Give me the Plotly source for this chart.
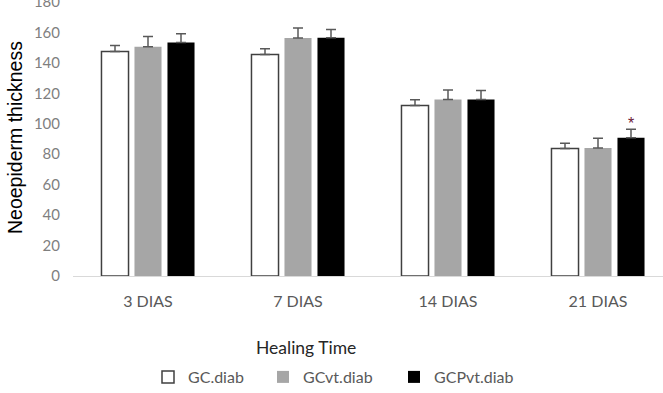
import plotly.graph_objects as go

categories = ["3 DIAS", "7 DIAS", "14 DIAS", "21 DIAS"]
series_names = ["GC.diab", "GCvt.diab", "GCPvt.diab"]
gc_diab = [147.5, 145.5, 112.0, 83.7]
gc_diab_err = [4.0, 3.8, 3.8, 3.5]
gcvt_diab = [150.6, 156.3, 115.9, 84.1]
gcvt_diab_err = [6.8, 6.7, 6.3, 6.4]
gcpvt_diab = [153.4, 156.5, 115.9, 90.9]
gcpvt_diab_err = [5.7, 5.5, 5.9, 5.5]
significance = ["", "", "", "*"]
y_ticks = [0, 20, 40, 60, 80, 100, 120, 140, 160, 180]

W, H = 663, 393
ml, mr, mt, mb = 73, 0, 2, 117
pw, ph = W - ml - mr, H - mt - mb

bargap = 0.34
slot = (1 - bargap) / 3

values = [gc_diab, gcvt_diab, gcpvt_diab]
errors = [gc_diab_err, gcvt_diab_err, gcpvt_diab_err]
fills = ["#ffffff", "#a6a6a6", "#000000"]
lines = ["#404040", "#a6a6a6", "#000000"]
lwidths = [1.5, 0, 0]
legend_ids = ["legend", "legend2", "legend3"]
legend_text_px = [188, 303, 434]

xs = list(range(len(categories)))
fig = go.Figure()
for i in range(3):
    fig.add_trace(go.Bar(
        x=xs, y=values[i], name=series_names[i],
        marker=dict(color=fills[i], line=dict(color=lines[i], width=lwidths[i])),
        error_y=dict(type="data", array=errors[i], arrayminus=[0] * len(xs),
                     symmetric=False, color="#595959", thickness=1.5, width=5),
        legend=legend_ids[i],
    ))

# significance marks above the GCPvt.diab bars
for k, s in enumerate(significance):
    if s:
        fig.add_annotation(x=xs[k] + slot, y=gcpvt_diab[k] + gcpvt_diab_err[k],
                           xref="x", yref="y", text=s, showarrow=False,
                           yanchor="bottom", yshift=-5,
                           font=dict(family="Liberation Sans", size=16, color="#6b2035"))

# axis titles
fig.add_annotation(x=(306 - ml) / pw, y=(mt + ph - 347) / ph, xref="paper", yref="paper",
                   text="Healing Time", showarrow=False, xanchor="center", yanchor="middle",
                   font=dict(family="Lato", size=17.5, color="#262626"))
fig.add_annotation(x=(15 - ml) / pw, y=(mt + ph - 138) / ph, xref="paper", yref="paper",
                   text="Neoepiderm thickness", textangle=-90, showarrow=False,
                   xanchor="center", yanchor="middle",
                   font=dict(family="Liberation Sans", size=19.5, color="#000000"))

layout_legends = {}
for i, lid in enumerate(legend_ids):
    layout_legends[lid] = dict(
        x=(legend_text_px[i] - 40 - ml) / pw, y=(mt + ph - 377) / ph,
        xanchor="left", yanchor="middle", orientation="h",
        bgcolor="rgba(0,0,0,0)", borderwidth=0, itemwidth=30,
        font=dict(family="Lato", size=16, color="#595959"))

fig.update_layout(
    width=W, height=H,
    margin=dict(l=ml, r=mr, t=mt, b=mb, pad=0, autoexpand=False),
    paper_bgcolor="white", plot_bgcolor="white",
    barmode="group", bargap=bargap, bargroupgap=0.18,
    showlegend=True,
    **layout_legends,
)
fig.update_xaxes(
    tickmode="array", tickvals=xs, ticktext=categories,
    range=[-0.5, -0.5 + pw / 150.0], automargin=False,
    showgrid=False, zeroline=False, showline=True, linecolor="#d9d9d9", linewidth=1,
    ticks="", ticklabelstandoff=11,
    tickfont=dict(family="Lato", size=16, color="#595959"),
)
fig.update_yaxes(
    range=[0, 180], tickmode="array", tickvals=y_ticks, automargin=False,
    showgrid=False, zeroline=False, showline=False, ticks="",
    ticklabelstandoff=12, ticklabeloverflow="allow",
    tickfont=dict(family="Lato", size=15, color="#7f7f7f"),
)

fig.write_html("out.html")
